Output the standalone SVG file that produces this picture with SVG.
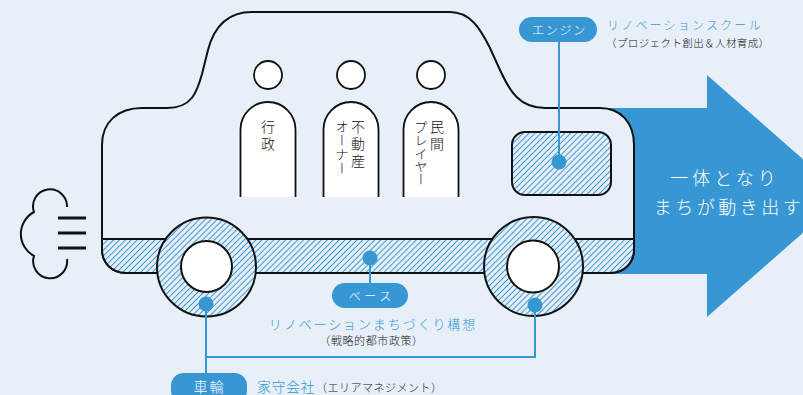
<svg xmlns="http://www.w3.org/2000/svg" width="803" height="395" viewBox="0 0 803 395">
  <defs>
    <pattern id="hatch" patternUnits="userSpaceOnUse" width="4.2" height="4.2" patternTransform="rotate(45)">
      <rect width="4.2" height="4.2" fill="#e7eff8"/>
      <line x1="2.1" y1="0" x2="2.1" y2="4.2" stroke="#3797d3" stroke-width="1"/>
    </pattern>
    <style>
      .ink { fill: none; stroke: #111; stroke-width: 2; }
      .link { fill: none; stroke: #3797d3; stroke-width: 2; }
      .dot { fill: #3797d3; }
      .pill { fill: #3797d3; }
      .jp { font-family: "Noto Sans CJK JP", "Noto Sans", sans-serif; font-weight: 300; }
      .pilltxt { fill: #fff; text-anchor: middle; }
      .blue { fill: #3797d3; }
      .dark { fill: #222; }
      .vert { writing-mode: vertical-rl; fill: #111; }
    </style>
  </defs>

  <rect width="803" height="395" fill="#e7eff8"/>

  <!-- big forward arrow behind the car -->
  <g id="arrow">
    <polygon points="590,108 707,108 707,75 845,196 707,317 707,274 590,274" fill="#3797d3"/>
    <text class="jp" x="725" y="185" font-size="18" fill="#fff" text-anchor="middle" letter-spacing="4">一体となり</text>
    <text class="jp" x="729" y="214" font-size="18" fill="#fff" text-anchor="middle" letter-spacing="3.5">まちが動き出す</text>
  </g>

  <!-- exhaust puff -->
  <g id="exhaust">
    <path class="ink" d="M67,207 A17,17 0 1 0 34,212 A25,25 0 0 0 34,256 A17,17 0 1 0 67,259"/>
    <line x1="58" y1="218" x2="86" y2="218" stroke="#111" stroke-width="3"/>
    <line x1="58" y1="233" x2="86" y2="233" stroke="#111" stroke-width="3"/>
    <line x1="58" y1="248" x2="86" y2="248" stroke="#111" stroke-width="3"/>
  </g>

  <!-- car body with hatched base band -->
  <g id="body">
    <path d="M102,145 C102,122 118,108 142,108 L167,108 C192,108 197,92 202,74 L208,50 C214,27 228,12 252,12 L450,12 C470,12 480,28 490,48 L500,70 C510,92 520,108 545,108 L600,108 C620,108 634,122 634,145 L634,249 C634,263 624,273 610,273 L126,273 C112,273 102,263 102,249 Z" fill="#e7eff8" stroke="#111" stroke-width="2"/>
    <path d="M102,239 L634,239 L634,249 C634,263 624,273 610,273 L126,273 C112,273 102,263 102,249 Z" fill="url(#hatch)" stroke="#111" stroke-width="2"/>
  </g>

  <!-- people inside the car -->
  <g id="person-gyosei">
    <circle cx="268" cy="75" r="14" fill="#fff" stroke="#111" stroke-width="1.8"/>
    <path d="M240.5,197 V129.5 A27.5,27.5 0 0 1 295.5,129.5 V197" fill="#fff" stroke="#111" stroke-width="1.8"/>
    <text class="jp vert" x="268" y="120" font-size="14" letter-spacing="3">行政</text>
  </g>
  <g id="person-owner">
    <circle cx="351" cy="75" r="14" fill="#fff" stroke="#111" stroke-width="1.8"/>
    <path d="M323.5,197 V129.5 A27.5,27.5 0 0 1 378.5,129.5 V197" fill="#fff" stroke="#111" stroke-width="1.8"/>
    <text class="jp vert" x="358" y="120" font-size="14" letter-spacing="3">不動産</text>
    <text class="jp vert" x="342" y="120" font-size="13" letter-spacing="1">オーナー</text>
  </g>
  <g id="person-player">
    <circle cx="431" cy="75" r="14" fill="#fff" stroke="#111" stroke-width="1.8"/>
    <path d="M403.5,197 V129.5 A27.5,27.5 0 0 1 458.5,129.5 V197" fill="#fff" stroke="#111" stroke-width="1.8"/>
    <text class="jp vert" x="437" y="120" font-size="14" letter-spacing="3">民間</text>
    <text class="jp vert" x="421" y="121" font-size="13" letter-spacing="0">プレイヤー</text>
  </g>

  <!-- engine window -->
  <g id="engine">
    <rect x="512" y="132" width="99" height="63" rx="13" fill="url(#hatch)" stroke="#111" stroke-width="2"/>
  </g>

  <!-- wheels -->
  <g id="wheel-rear">
    <circle cx="206.5" cy="267" r="49.5" fill="url(#hatch)" stroke="#111" stroke-width="2"/>
    <circle cx="206.5" cy="266.5" r="25.5" fill="#fff" stroke="#111" stroke-width="2"/>
  </g>
  <g id="wheel-front">
    <circle cx="533.5" cy="266.5" r="49.5" fill="url(#hatch)" stroke="#111" stroke-width="2"/>
    <circle cx="533" cy="266.5" r="26" fill="#fff" stroke="#111" stroke-width="2"/>
  </g>

  <!-- leader lines and anchor dots -->
  <g id="connectors">
    <line class="link" x1="559" y1="162" x2="559" y2="40" stroke-width="2.5"/>
    <line class="link" x1="370" y1="258" x2="370" y2="285"/>
    <polyline class="link" points="206,304 206,376"/>
    <polyline class="link" points="206,357 535,357 535,305"/>
    <circle class="dot" cx="559" cy="162" r="7.5"/>
    <circle class="dot" cx="370" cy="258" r="7.5"/>
    <circle class="dot" cx="206" cy="304" r="7.5"/>
    <circle class="dot" cx="535" cy="305" r="7.5"/>
  </g>

  <!-- labels -->
  <g id="label-engine">
    <rect class="pill" x="519" y="17" width="78" height="25" rx="12.5"/>
    <text class="jp pilltxt" x="559.5" y="34.5" font-size="12" letter-spacing="1.8">エンジン</text>
    <text class="jp blue" x="607" y="30" font-size="12" letter-spacing="2.2">リノベーションスクール</text>
    <text class="jp dark" x="606" y="47" font-size="10.5" letter-spacing="0.4">（プロジェクト創出＆人材育成）</text>
  </g>
  <g id="label-base">
    <rect class="pill" x="332" y="283" width="76" height="25" rx="12.5"/>
    <text class="jp pilltxt" x="371.8" y="300.5" font-size="12" letter-spacing="3.6">ベース</text>
    <text class="jp blue" x="373" y="329" font-size="13" letter-spacing="1.9" text-anchor="middle">リノベーションまちづくり構想</text>
    <text class="jp dark" x="371.5" y="345" font-size="11" letter-spacing="0.6" text-anchor="middle">（戦略的都市政策）</text>
  </g>
  <g id="label-wheel">
    <rect class="pill" x="171" y="373" width="76" height="30" rx="12.5"/>
    <text class="jp pilltxt" x="209.5" y="392" font-size="14" letter-spacing="2">車輪</text>
    <text class="jp blue" x="257" y="392" font-size="14" letter-spacing="0.5">家守会社</text>
    <text class="jp dark" x="316" y="392" font-size="11" letter-spacing="0.5">（エリアマネジメント）</text>
  </g>
</svg>
